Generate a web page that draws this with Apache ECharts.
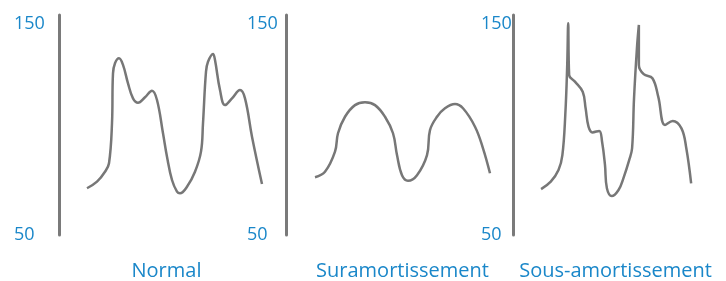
<!DOCTYPE html>
<html>
<head>
<meta charset="utf-8">
<script src="https://cdn.jsdelivr.net/npm/echarts@6/dist/echarts.min.js"></script>
<style>
  html, body { margin: 0; padding: 0; background: #fff; }
  #chart { width: 726px; height: 281px; }
</style>
</head>
<body>
<div id="chart"></div>
<script>
// pressure waves (mmHg) over time (s)
const normalTime = [0.28, 0.38, 0.46, 0.50, 0.53, 0.54, 0.56, 0.60, 0.64, 0.69, 0.74, 0.79, 0.86, 0.93, 0.98,
  1.04, 1.08, 1.13, 1.18, 1.21, 1.28, 1.36, 1.42, 1.44, 1.47, 1.49, 1.54, 1.56, 1.61, 1.66, 1.73, 1.81, 1.86, 1.93, 2.03]
const normalPressure = [72.1, 75.2, 79.9, 83.9, 102.8, 126.4, 131.2, 133.5, 130.4, 121.7, 114.6, 112.5, 115.1, 118.2, 113.8,
  98.1, 87.0, 76.0, 70.5, 69.7, 72.8, 79.9, 89.4, 102.8, 127.2, 131.9, 135.6, 132.7, 118.5, 111.4, 114.6, 118.5, 114.6, 96.5, 74.1]

const overTime = [0.29, 0.39, 0.49, 0.52, 0.59, 0.69, 0.79, 0.89, 0.99, 1.07, 1.11, 1.16,
  1.22, 1.31, 1.41, 1.44, 1.51, 1.59, 1.69, 1.77, 1.89, 1.97, 2.04]
const overPressure = [77.3, 79.9, 89.4, 98.1, 105.9, 111.4, 112.7, 111.4, 105.9, 98.1, 87.8, 78.3,
  75.7, 78.3, 87.8, 99.6, 105.9, 109.9, 111.9, 109.9, 101.2, 91.0, 79.2]

const underTime = [0.29, 0.39, 0.47, 0.51, 0.54, 0.56, 0.57, 0.58, 0.64, 0.72, 0.75, 0.78, 0.82, 0.89, 0.92, 0.95, 0.97,
  1.02, 1.09, 1.14, 1.20, 1.23, 1.25, 1.28, 1.30, 1.30, 1.35, 1.44, 1.50, 1.57, 1.65, 1.74, 1.79, 1.84]
const underPressure = [71.7, 75.2, 80.7, 87.8, 106.7, 130.4, 150.1, 125.6, 122.5, 117.7, 109.9, 101.2, 98.5, 99.2, 94.1, 83.1, 72.1,
  68.4, 71.3, 76.8, 85.4, 91.0, 114.6, 138.3, 149.3, 130.4, 126.0, 124.1, 115.4, 102.0, 103.9, 100.4, 91.0, 74.4]

const panelTitles = ['Normal', 'Suramortissement', 'Sous-amortissement']
const tickValues = [50, 150]

const blue = '#1a87c9'
const gray = '#777777'

const chart = echarts.init(document.getElementById('chart'))

const panels = [
  { left: 59, margin: 45, time: normalTime, pressure: normalPressure, titleX: 166.5 },
  { left: 286, margin: 39, time: overTime, pressure: overPressure, titleX: 402.5 },
  { left: 513, margin: 32, time: underTime, pressure: underPressure, titleX: 615.5 }
]

const zip = (xs, ys) => xs.map((x, i) => [x, ys[i]])

chart.setOption({
  animation: false,
  grid: panels.map(p => ({ left: p.left, top: 15, width: 220, height: 220 })),
  xAxis: panels.map((p, i) => ({
    type: 'value', gridIndex: i, min: 0, max: 2.2, show: false
  })),
  yAxis: panels.map((p, i) => ({
    type: 'value',
    gridIndex: i,
    min: 50,
    max: 154,
    axisLine: { show: true, lineStyle: { color: '#7a7a7a', width: 3 } },
    axisTick: { show: false },
    splitLine: { show: false },
    axisLabel: {
      customValues: tickValues,
      align: 'left',
      margin: p.margin,
      color: blue,
      fontFamily: 'Open Sans',
      fontSize: 18,
      padding: [3, 0, 0, 0]
    }
  })),
  series: panels.map((p, i) => ({
    type: 'line',
    xAxisIndex: i,
    yAxisIndex: i,
    data: zip(p.time, p.pressure),
    showSymbol: false,
    smooth: 0.4,
    lineStyle: { color: gray, width: 2.5 }
  })),
  graphic: panels.map((p, i) => ({
    type: 'text',
    x: p.titleX,
    y: 271,
    style: {
      text: panelTitles[i],
      fill: blue,
      font: '20px "Open Sans"',
      textAlign: 'center',
      textVerticalAlign: 'middle'
    }
  }))
})
</script>
</body>
</html>
